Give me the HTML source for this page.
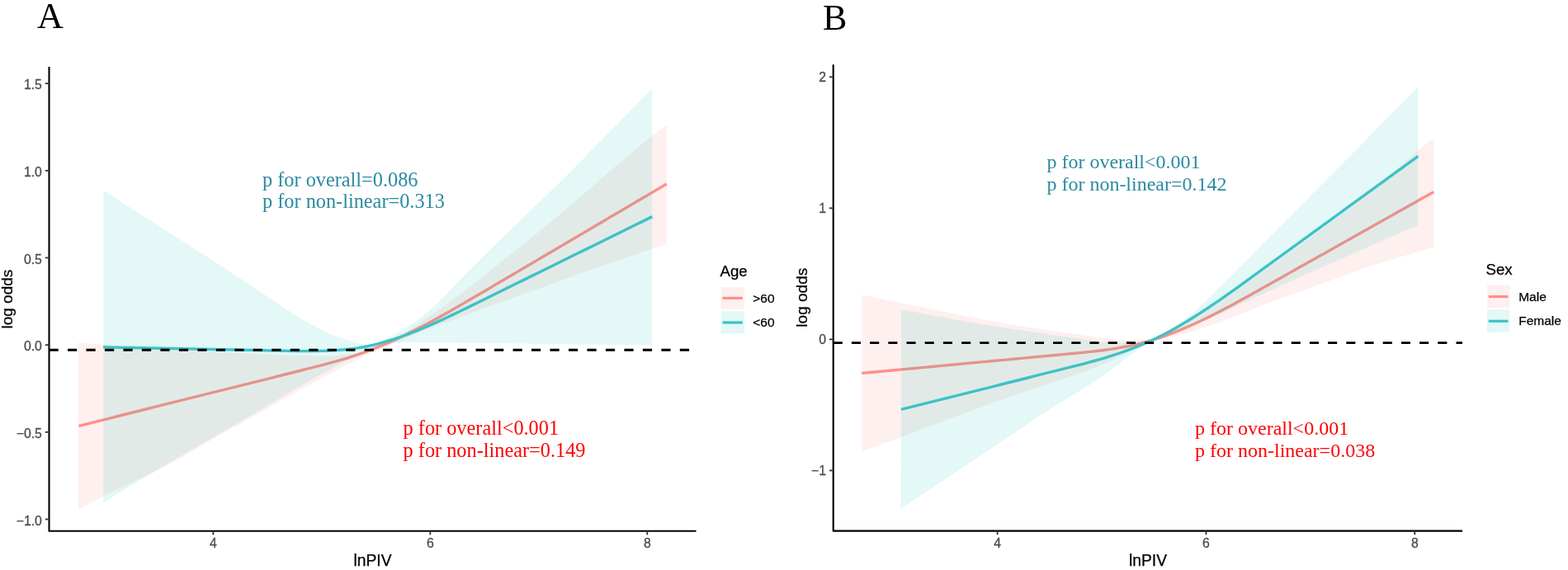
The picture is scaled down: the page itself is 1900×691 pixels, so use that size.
<!DOCTYPE html>
<html><head><meta charset="utf-8"><title>RCS plots</title>
<style>html,body{margin:0;padding:0;background:#fff;}body{width:1900px;height:691px;overflow:hidden;}svg{display:block;}</style>
</head><body>
<svg width="1900" height="691" viewBox="0 0 1900 691">
<rect width="100%" height="100%" fill="#fff"/>
<path d="M94.90,415.60 C104.08,416.25 132.48,418.27 150.00,419.50 C167.52,420.73 175.00,421.50 200.00,423.00 C225.00,424.50 273.33,427.20 300.00,428.50 C326.67,429.80 343.33,430.35 360.00,430.80 C376.67,431.25 389.17,431.40 400.00,431.20 C410.83,431.00 417.50,430.63 425.00,429.60 C432.50,428.57 439.17,426.93 445.00,425.00 C450.83,423.07 455.00,420.42 460.00,418.00 C465.00,415.58 469.17,413.42 475.00,410.50 C480.83,407.58 486.83,405.45 495.00,400.50 C503.17,395.55 513.92,387.80 524.00,380.80 C534.08,373.80 542.83,368.05 555.50,358.50 C568.17,348.95 578.82,340.50 600.00,323.50 C621.18,306.50 657.60,277.42 682.60,256.50 C707.60,235.58 732.05,213.30 750.00,198.00 C767.95,182.70 780.67,172.42 790.30,164.70 C799.93,156.98 804.88,153.87 807.80,151.70 L807.80,295.90 C804.88,296.83 801.05,297.88 790.30,301.50 C779.55,305.12 759.10,312.08 743.30,317.60 C727.50,323.12 711.42,328.92 695.50,334.60 C679.58,340.28 663.72,346.03 647.80,351.70 C631.88,357.37 611.88,364.32 600.00,368.60 C588.12,372.88 585.67,373.97 576.50,377.40 C567.33,380.83 555.50,385.33 545.00,389.20 C534.50,393.07 522.67,396.97 513.50,400.60 C504.33,404.23 498.08,407.52 490.00,411.00 C481.92,414.48 472.50,418.33 465.00,421.50 C457.50,424.67 452.68,426.42 445.00,430.00 C437.32,433.58 429.03,437.75 418.90,443.00 C408.77,448.25 404.45,450.30 384.20,461.50 C363.95,472.70 318.45,498.40 297.40,510.20 C276.35,522.00 274.13,523.07 257.90,532.30 C241.67,541.53 222.15,554.02 200.00,565.60 C177.85,577.18 142.52,593.05 125.00,601.80 C107.48,610.55 99.92,615.38 94.90,618.10 Z" fill="#F8766D" fill-opacity="0.110" stroke="none"/>
<path d="M95.60,516.34 L101.64,514.83 L107.67,513.32 L113.71,511.81 L119.74,510.31 L125.78,508.80 L131.81,507.29 L137.85,505.78 L143.88,504.27 L149.92,502.77 L155.96,501.26 L161.99,499.75 L168.03,498.24 L174.06,496.73 L180.10,495.23 L186.13,493.72 L192.17,492.21 L198.21,490.70 L204.24,489.19 L210.28,487.69 L216.31,486.18 L222.35,484.67 L228.38,483.16 L234.42,481.65 L240.45,480.15 L246.49,478.64 L252.53,477.13 L258.56,475.62 L264.60,474.11 L270.63,472.61 L276.67,471.10 L282.70,469.59 L288.74,468.08 L294.77,466.57 L300.81,465.07 L306.85,463.56 L312.88,462.05 L318.92,460.54 L324.95,459.03 L330.99,457.53 L337.02,456.02 L343.06,454.51 L349.09,453.00 L355.13,451.50 L361.17,449.99 L367.20,448.48 L373.24,446.97 L379.27,445.44 L385.31,443.90 L391.34,442.33 L397.38,440.73 L403.42,439.08 L409.45,437.38 L415.49,435.62 L421.52,433.79 L427.56,431.88 L433.59,429.89 L439.63,427.81 L445.66,425.63 L451.70,423.35 L457.74,420.95 L463.77,418.46 L469.81,415.87 L475.84,413.19 L481.88,410.42 L487.91,407.57 L493.95,404.64 L499.98,401.64 L506.02,398.57 L512.06,395.44 L518.09,392.24 L524.13,388.99 L530.16,385.69 L536.20,382.35 L542.23,378.96 L548.27,375.54 L554.31,372.08 L560.34,368.60 L566.38,365.09 L572.41,361.57 L578.45,358.03 L584.48,354.48 L590.52,350.93 L596.55,347.37 L602.59,343.82 L608.63,340.27 L614.66,336.71 L620.70,333.16 L626.73,329.60 L632.77,326.05 L638.80,322.50 L644.84,318.94 L650.87,315.39 L656.91,311.84 L662.95,308.28 L668.98,304.73 L675.02,301.17 L681.05,297.62 L687.09,294.07 L693.12,290.51 L699.16,286.96 L705.19,283.41 L711.23,279.85 L717.27,276.30 L723.30,272.74 L729.34,269.19 L735.37,265.64 L741.41,262.08 L747.44,258.53 L753.48,254.97 L759.52,251.42 L765.55,247.87 L771.59,244.31 L777.62,240.76 L783.66,237.21 L789.69,233.65 L795.73,230.10 L801.76,226.54 L807.80,222.99" fill="none" stroke="#FF8F88" stroke-width="3.4" stroke-linecap="butt" stroke-linejoin="round"/>
<path d="M125.30,230.80 C137.75,238.80 177.55,264.38 200.00,278.80 C222.45,293.22 243.33,306.53 260.00,317.30 C276.67,328.07 291.05,337.53 300.00,343.40 C308.95,349.27 309.12,349.40 313.70,352.50 C318.28,355.60 322.92,358.92 327.50,362.00 C332.08,365.08 336.62,368.00 341.20,371.00 C345.78,374.00 350.42,377.10 355.00,380.00 C359.58,382.90 364.12,385.73 368.70,388.40 C373.28,391.07 377.92,393.58 382.50,396.00 C387.08,398.42 391.62,400.83 396.20,402.90 C400.78,404.97 405.42,406.68 410.00,408.40 C414.58,410.12 419.12,411.83 423.70,413.20 C428.28,414.57 432.92,415.80 437.50,416.60 C442.08,417.40 447.45,418.30 451.20,418.00 C454.95,417.70 456.60,416.37 460.00,414.80 C463.40,413.23 467.75,410.65 471.60,408.60 C475.45,406.55 479.25,404.67 483.10,402.50 C486.95,400.33 490.83,398.10 494.70,395.60 C498.57,393.10 502.43,390.37 506.30,387.50 C510.17,384.63 514.05,381.65 517.90,378.40 C521.75,375.15 525.72,371.47 529.40,368.00 C533.08,364.53 535.65,362.07 540.00,357.60 C544.35,353.13 549.42,347.47 555.50,341.20 C561.58,334.93 569.08,327.40 576.50,320.00 C583.92,312.60 589.42,307.13 600.00,296.80 C610.58,286.47 626.23,271.33 640.00,258.00 C653.77,244.67 665.93,233.38 682.60,216.80 C699.27,200.22 722.05,176.82 740.00,158.50 C757.95,140.18 781.92,115.50 790.30,106.90 L790.30,418.50 C775.25,418.32 731.72,417.78 700.00,417.40 C668.28,417.02 630.00,416.55 600.00,416.20 C570.00,415.85 540.00,415.40 520.00,415.30 C500.00,415.20 489.17,415.23 480.00,415.60 C470.83,415.97 469.40,416.50 465.00,417.50 C460.60,418.50 457.77,419.85 453.60,421.60 C449.43,423.35 445.78,425.27 440.00,428.00 C434.22,430.73 428.20,433.23 418.90,438.00 C409.60,442.77 398.67,448.40 384.20,456.60 C369.73,464.80 349.47,477.05 332.10,487.20 C314.73,497.35 292.37,510.28 280.00,517.50 C267.63,524.72 271.23,522.73 257.90,530.50 C244.57,538.27 222.13,550.95 200.00,564.10 C177.87,577.25 137.58,601.85 125.10,609.40 Z" fill="#00BFB8" fill-opacity="0.110" stroke="none"/>
<path d="M125.10,420.84 L131.15,420.96 L137.19,421.08 L143.24,421.21 L149.29,421.33 L155.34,421.45 L161.38,421.57 L167.43,421.69 L173.48,421.81 L179.53,421.93 L185.57,422.06 L191.62,422.18 L197.67,422.30 L203.71,422.42 L209.76,422.54 L215.81,422.66 L221.86,422.78 L227.90,422.90 L233.95,423.03 L240.00,423.15 L246.05,423.27 L252.09,423.39 L258.14,423.51 L264.19,423.63 L270.23,423.75 L276.28,423.88 L282.33,424.00 L288.38,424.12 L294.42,424.24 L300.47,424.36 L306.52,424.48 L312.57,424.60 L318.61,424.73 L324.66,424.85 L330.71,424.97 L336.75,425.09 L342.80,425.21 L348.85,425.33 L354.90,425.44 L360.94,425.54 L366.99,425.61 L373.04,425.64 L379.09,425.63 L385.13,425.55 L391.18,425.42 L397.23,425.21 L403.27,424.91 L409.32,424.52 L415.37,424.02 L421.42,423.41 L427.46,422.68 L433.51,421.81 L439.56,420.80 L445.61,419.63 L451.65,418.31 L457.70,416.84 L463.75,415.23 L469.79,413.48 L475.84,411.60 L481.89,409.61 L487.94,407.50 L493.98,405.28 L500.03,402.96 L506.08,400.55 L512.13,398.05 L518.17,395.47 L524.22,392.82 L530.27,390.11 L536.31,387.34 L542.36,384.52 L548.41,381.65 L554.46,378.75 L560.50,375.82 L566.55,372.87 L572.60,369.90 L578.65,366.92 L584.69,363.94 L590.74,360.96 L596.79,357.98 L602.83,355.00 L608.88,352.02 L614.93,349.04 L620.98,346.07 L627.02,343.09 L633.07,340.11 L639.12,337.13 L645.17,334.15 L651.21,331.17 L657.26,328.19 L663.31,325.21 L669.35,322.23 L675.40,319.25 L681.45,316.27 L687.50,313.29 L693.54,310.31 L699.59,307.33 L705.64,304.35 L711.69,301.38 L717.73,298.40 L723.78,295.42 L729.83,292.44 L735.87,289.46 L741.92,286.48 L747.97,283.50 L754.02,280.52 L760.06,277.54 L766.11,274.56 L772.16,271.58 L778.21,268.60 L784.25,265.62 L790.30,262.64" fill="none" stroke="#3DC2C6" stroke-width="3.4" stroke-linecap="butt" stroke-linejoin="round"/>
<line x1="59.50" y1="424.20" x2="843.50" y2="424.20" stroke="#000" stroke-width="2.9" stroke-dasharray="11.24 11.24"/>
<path d="M59.50,81.00 L59.50,643.70 L843.50,643.70" fill="none" stroke="#000" stroke-width="2.1" stroke-linecap="butt" stroke-linejoin="round"/>
<line x1="54.80" y1="101.20" x2="59.50" y2="101.20" stroke="#333" stroke-width="1.8"/>
<text x="50.90" y="108.20" text-anchor="end" font-family="Liberation Sans, Arial, sans-serif" font-size="15.8" fill="#4D4D4D" stroke="#4D4D4D" stroke-width="0.3">1.5</text>
<line x1="54.80" y1="206.85" x2="59.50" y2="206.85" stroke="#333" stroke-width="1.8"/>
<text x="50.90" y="213.85" text-anchor="end" font-family="Liberation Sans, Arial, sans-serif" font-size="15.8" fill="#4D4D4D" stroke="#4D4D4D" stroke-width="0.3">1.0</text>
<line x1="54.80" y1="312.50" x2="59.50" y2="312.50" stroke="#333" stroke-width="1.8"/>
<text x="50.90" y="319.50" text-anchor="end" font-family="Liberation Sans, Arial, sans-serif" font-size="15.8" fill="#4D4D4D" stroke="#4D4D4D" stroke-width="0.3">0.5</text>
<line x1="54.80" y1="418.20" x2="59.50" y2="418.20" stroke="#333" stroke-width="1.8"/>
<text x="50.90" y="425.20" text-anchor="end" font-family="Liberation Sans, Arial, sans-serif" font-size="15.8" fill="#4D4D4D" stroke="#4D4D4D" stroke-width="0.3">0.0</text>
<line x1="54.80" y1="523.85" x2="59.50" y2="523.85" stroke="#333" stroke-width="1.8"/>
<text x="50.90" y="530.85" text-anchor="end" font-family="Liberation Sans, Arial, sans-serif" font-size="15.8" fill="#4D4D4D" stroke="#4D4D4D" stroke-width="0.3">−0.5</text>
<line x1="54.80" y1="629.50" x2="59.50" y2="629.50" stroke="#333" stroke-width="1.8"/>
<text x="50.90" y="636.50" text-anchor="end" font-family="Liberation Sans, Arial, sans-serif" font-size="15.8" fill="#4D4D4D" stroke="#4D4D4D" stroke-width="0.3">−1.0</text>
<line x1="258.40" y1="643.70" x2="258.40" y2="648.40" stroke="#333" stroke-width="1.8"/>
<text x="258.40" y="664.30" text-anchor="middle" font-family="Liberation Sans, Arial, sans-serif" font-size="15.8" fill="#4D4D4D" stroke="#4D4D4D" stroke-width="0.3">4</text>
<line x1="521.30" y1="643.70" x2="521.30" y2="648.40" stroke="#333" stroke-width="1.8"/>
<text x="521.30" y="664.30" text-anchor="middle" font-family="Liberation Sans, Arial, sans-serif" font-size="15.8" fill="#4D4D4D" stroke="#4D4D4D" stroke-width="0.3">6</text>
<line x1="784.30" y1="643.70" x2="784.30" y2="648.40" stroke="#333" stroke-width="1.8"/>
<text x="784.30" y="664.30" text-anchor="middle" font-family="Liberation Sans, Arial, sans-serif" font-size="15.8" fill="#4D4D4D" stroke="#4D4D4D" stroke-width="0.3">8</text>
<text x="451.50" y="686.00" font-family="Liberation Sans, Arial, sans-serif" font-size="19.30" fill="#000" text-anchor="middle" stroke="#000" stroke-width="0.25">lnPIV</text>
<text x="14.70" y="362.60" font-family="Liberation Sans, Arial, sans-serif" font-size="19.00" fill="#000" text-anchor="middle" transform="rotate(-90 14.70 362.60)" stroke="#000" stroke-width="0.25">log odds</text>
<text x="318.00" y="225.90" font-family="Liberation Serif, Times New Roman, serif" font-size="24.30" fill="#2B8AA0" text-anchor="start">p for overall=0.086</text>
<text x="318.00" y="251.80" font-family="Liberation Serif, Times New Roman, serif" font-size="24.30" fill="#2B8AA0" text-anchor="start">p for non-linear=0.313</text>
<text x="488.60" y="527.20" font-family="Liberation Serif, Times New Roman, serif" font-size="24.30" fill="#FF0000" text-anchor="start">p for overall&lt;0.001</text>
<text x="488.60" y="553.70" font-family="Liberation Serif, Times New Roman, serif" font-size="24.30" fill="#FF0000" text-anchor="start">p for non-linear=0.149</text>
<text x="45.00" y="33.90" font-family="Liberation Serif, Times New Roman, serif" font-size="44.00" fill="#000" text-anchor="start">A</text>
<text x="872.50" y="334.60" font-family="Liberation Sans, Arial, sans-serif" font-size="18.70" fill="#000" text-anchor="start" stroke="#000" stroke-width="0.25">Age</text>
<rect x="873.7" y="347.9" width="28.3" height="26.9" fill="#F8766D" fill-opacity="0.110"/>
<line x1="875.6" y1="361.4" x2="899.8" y2="361.4" stroke="#FF8F88" stroke-width="3.2"/>
<rect x="873.7" y="377.3" width="28.3" height="26.9" fill="#00BFB8" fill-opacity="0.110"/>
<line x1="875.6" y1="391.0" x2="899.8" y2="391.0" stroke="#3DC2C6" stroke-width="3.2"/>
<text x="912.30" y="366.70" font-family="Liberation Sans, Arial, sans-serif" font-size="15.50" fill="#000" text-anchor="start" stroke="#000" stroke-width="0.25">&gt;60</text>
<text x="912.30" y="396.10" font-family="Liberation Sans, Arial, sans-serif" font-size="15.50" fill="#000" text-anchor="start" stroke="#000" stroke-width="0.25">&lt;60</text>
<path d="M1044.30,357.40 C1053.58,359.30 1082.38,365.20 1100.00,368.80 C1117.62,372.40 1133.33,375.63 1150.00,379.00 C1166.67,382.37 1183.00,385.92 1200.00,389.00 C1217.00,392.08 1235.33,394.92 1252.00,397.50 C1268.67,400.08 1285.52,402.42 1300.00,404.50 C1314.48,406.58 1328.07,408.65 1338.90,410.00 C1349.73,411.35 1357.32,412.17 1365.00,412.60 C1372.68,413.03 1379.67,412.83 1385.00,412.60 C1390.33,412.37 1391.17,413.05 1397.00,411.20 C1402.83,409.35 1411.17,406.03 1420.00,401.50 C1428.83,396.97 1439.67,390.58 1450.00,384.00 C1460.33,377.42 1470.33,369.92 1482.00,362.00 C1493.67,354.08 1507.00,345.50 1520.00,336.50 C1533.00,327.50 1546.67,317.67 1560.00,308.00 C1573.33,298.33 1583.33,291.00 1600.00,278.50 C1616.67,266.00 1640.28,248.98 1660.00,233.00 C1679.72,217.02 1705.42,193.53 1718.30,182.60 C1731.18,171.67 1734.13,169.93 1737.30,167.40 L1737.30,299.50 C1724.42,303.42 1682.88,315.50 1660.00,323.00 C1637.12,330.50 1618.33,337.87 1600.00,344.50 C1581.67,351.13 1563.43,357.82 1550.00,362.80 C1536.57,367.78 1530.28,370.23 1519.40,374.40 C1508.52,378.57 1494.43,384.10 1484.70,387.80 C1474.97,391.50 1470.02,393.57 1461.00,396.60 C1451.98,399.63 1438.77,403.85 1430.60,406.00 C1422.43,408.15 1417.60,408.47 1412.00,409.50 C1406.40,410.53 1401.50,410.87 1397.00,412.20 C1392.50,413.53 1390.33,414.78 1385.00,417.50 C1379.67,420.22 1372.68,424.67 1365.00,428.50 C1357.32,432.33 1349.03,436.28 1338.90,440.50 C1328.77,444.72 1318.68,448.63 1304.20,453.80 C1289.72,458.97 1269.37,465.55 1252.00,471.50 C1234.63,477.45 1217.00,483.42 1200.00,489.50 C1183.00,495.58 1168.02,501.25 1150.00,508.00 C1131.98,514.75 1109.52,523.48 1091.90,530.00 C1074.28,536.52 1052.23,544.25 1044.30,547.10 Z" fill="#F8766D" fill-opacity="0.110" stroke="none"/>
<path d="M1044.30,452.41 L1050.33,451.85 L1056.35,451.28 L1062.38,450.72 L1068.40,450.16 L1074.43,449.60 L1080.46,449.04 L1086.48,448.47 L1092.51,447.91 L1098.53,447.35 L1104.56,446.79 L1110.59,446.22 L1116.61,445.66 L1122.64,445.10 L1128.67,444.54 L1134.69,443.98 L1140.72,443.41 L1146.74,442.85 L1152.77,442.29 L1158.80,441.73 L1164.82,441.17 L1170.85,440.60 L1176.87,440.04 L1182.90,439.48 L1188.93,438.92 L1194.95,438.36 L1200.98,437.79 L1207.00,437.23 L1213.03,436.67 L1219.06,436.11 L1225.08,435.54 L1231.11,434.98 L1237.13,434.42 L1243.16,433.86 L1249.19,433.30 L1255.21,432.73 L1261.24,432.17 L1267.27,431.61 L1273.29,431.05 L1279.32,430.49 L1285.34,429.92 L1291.37,429.36 L1297.40,428.80 L1303.42,428.23 L1309.45,427.65 L1315.47,427.04 L1321.50,426.40 L1327.53,425.72 L1333.55,424.99 L1339.58,424.20 L1345.60,423.34 L1351.63,422.41 L1357.66,421.40 L1363.68,420.29 L1369.71,419.09 L1375.73,417.77 L1381.76,416.33 L1387.79,414.77 L1393.81,413.07 L1399.84,411.23 L1405.87,409.26 L1411.89,407.17 L1417.92,404.95 L1423.94,402.62 L1429.97,400.19 L1436.00,397.65 L1442.02,395.01 L1448.05,392.28 L1454.07,389.47 L1460.10,386.58 L1466.13,383.61 L1472.15,380.58 L1478.18,377.48 L1484.20,374.33 L1490.23,371.13 L1496.26,367.89 L1502.28,364.60 L1508.31,361.29 L1514.33,357.95 L1520.36,354.59 L1526.39,351.21 L1532.41,347.82 L1538.44,344.44 L1544.47,341.05 L1550.49,337.66 L1556.52,334.27 L1562.54,330.88 L1568.57,327.49 L1574.60,324.10 L1580.62,320.72 L1586.65,317.33 L1592.67,313.94 L1598.70,310.55 L1604.73,307.16 L1610.75,303.77 L1616.78,300.38 L1622.80,296.99 L1628.83,293.61 L1634.86,290.22 L1640.88,286.83 L1646.91,283.44 L1652.93,280.05 L1658.96,276.66 L1664.99,273.27 L1671.01,269.88 L1677.04,266.50 L1683.07,263.11 L1689.09,259.72 L1695.12,256.33 L1701.14,252.94 L1707.17,249.55 L1713.20,246.16 L1719.22,242.77 L1725.25,239.39 L1731.27,236.00 L1737.30,232.61" fill="none" stroke="#FF8F88" stroke-width="3.4" stroke-linecap="butt" stroke-linejoin="round"/>
<path d="M1091.90,375.20 C1101.58,376.98 1131.98,382.63 1150.00,385.90 C1168.02,389.17 1183.00,392.02 1200.00,394.80 C1217.00,397.58 1235.33,400.13 1252.00,402.60 C1268.67,405.07 1285.52,407.60 1300.00,409.60 C1314.48,411.60 1328.07,413.65 1338.90,414.60 C1349.73,415.55 1357.32,415.43 1365.00,415.30 C1372.68,415.17 1379.67,414.48 1385.00,413.80 C1390.33,413.12 1392.50,413.00 1397.00,411.20 C1401.50,409.40 1407.33,405.78 1412.00,403.00 C1416.67,400.22 1420.83,397.33 1425.00,394.50 C1429.17,391.67 1433.27,388.78 1437.00,386.00 C1440.73,383.22 1443.57,381.10 1447.40,377.80 C1451.23,374.50 1453.73,372.28 1460.00,366.20 C1466.27,360.12 1475.00,351.33 1485.00,341.30 C1495.00,331.27 1507.50,318.62 1520.00,306.00 C1532.50,293.38 1546.67,279.07 1560.00,265.60 C1573.33,252.13 1583.33,242.02 1600.00,225.20 C1616.67,208.38 1640.28,184.72 1660.00,164.70 C1679.72,144.68 1708.58,115.03 1718.30,105.10 L1718.30,273.10 C1708.58,277.33 1679.72,289.85 1660.00,298.50 C1640.28,307.15 1616.67,317.60 1600.00,325.00 C1583.33,332.40 1573.33,336.90 1560.00,342.90 C1546.67,348.90 1531.67,355.65 1520.00,361.00 C1508.33,366.35 1499.83,370.50 1490.00,375.00 C1480.17,379.50 1470.17,384.25 1461.00,388.00 C1451.83,391.75 1443.17,394.58 1435.00,397.50 C1426.83,400.42 1418.33,403.08 1412.00,405.50 C1405.67,407.92 1401.95,409.33 1397.00,412.00 C1392.05,414.67 1389.08,416.70 1382.30,421.50 C1375.52,426.30 1366.43,433.42 1356.30,440.80 C1346.17,448.18 1336.55,455.93 1321.50,465.80 C1306.45,475.67 1286.25,486.92 1266.00,500.00 C1245.75,513.08 1219.33,531.33 1200.00,544.30 C1180.67,557.27 1168.07,565.68 1150.00,577.80 C1131.93,589.92 1101.33,610.47 1091.60,617.00 Z" fill="#00BFB8" fill-opacity="0.110" stroke="none"/>
<path d="M1091.90,496.41 L1097.92,494.91 L1103.95,493.40 L1109.97,491.89 L1115.99,490.38 L1122.02,488.88 L1128.04,487.37 L1134.06,485.86 L1140.08,484.36 L1146.11,482.85 L1152.13,481.34 L1158.15,479.84 L1164.18,478.33 L1170.20,476.82 L1176.22,475.31 L1182.25,473.81 L1188.27,472.30 L1194.29,470.79 L1200.32,469.29 L1206.34,467.78 L1212.36,466.27 L1218.38,464.77 L1224.41,463.26 L1230.43,461.75 L1236.45,460.24 L1242.48,458.74 L1248.50,457.23 L1254.52,455.72 L1260.55,454.22 L1266.57,452.71 L1272.59,451.20 L1278.62,449.70 L1284.64,448.19 L1290.66,446.68 L1296.68,445.17 L1302.71,443.64 L1308.73,442.09 L1314.75,440.52 L1320.78,438.90 L1326.80,437.24 L1332.82,435.53 L1338.85,433.76 L1344.87,431.92 L1350.89,430.00 L1356.92,428.00 L1362.94,425.91 L1368.96,423.72 L1374.98,421.42 L1381.01,419.01 L1387.03,416.47 L1393.05,413.80 L1399.08,410.99 L1405.10,408.04 L1411.12,404.96 L1417.15,401.75 L1423.17,398.41 L1429.19,394.96 L1435.22,391.41 L1441.24,387.75 L1447.26,383.99 L1453.28,380.15 L1459.31,376.23 L1465.33,372.23 L1471.35,368.16 L1477.38,364.03 L1483.40,359.85 L1489.42,355.62 L1495.45,351.35 L1501.47,347.04 L1507.49,342.71 L1513.52,338.35 L1519.54,333.98 L1525.56,329.60 L1531.58,325.22 L1537.61,320.84 L1543.63,316.46 L1549.65,312.07 L1555.68,307.69 L1561.70,303.31 L1567.72,298.93 L1573.75,294.55 L1579.77,290.17 L1585.79,285.79 L1591.82,281.41 L1597.84,277.03 L1603.86,272.64 L1609.88,268.26 L1615.91,263.88 L1621.93,259.50 L1627.95,255.12 L1633.98,250.74 L1640.00,246.36 L1646.02,241.98 L1652.05,237.60 L1658.07,233.21 L1664.09,228.83 L1670.12,224.45 L1676.14,220.07 L1682.16,215.69 L1688.18,211.31 L1694.21,206.93 L1700.23,202.55 L1706.25,198.16 L1712.28,193.78 L1718.30,189.40" fill="none" stroke="#3DC2C6" stroke-width="3.4" stroke-linecap="butt" stroke-linejoin="round"/>
<line x1="1009.70" y1="415.60" x2="1772.00" y2="415.60" stroke="#000" stroke-width="2.9" stroke-dasharray="11.10 11.10"/>
<path d="M1009.70,78.20 L1009.70,643.60 L1772.00,643.60" fill="none" stroke="#000" stroke-width="2.1" stroke-linecap="butt" stroke-linejoin="round"/>
<line x1="1005.00" y1="93.30" x2="1009.70" y2="93.30" stroke="#333" stroke-width="1.8"/>
<text x="1001.10" y="99.30" text-anchor="end" font-family="Liberation Sans, Arial, sans-serif" font-size="15.8" fill="#4D4D4D" stroke="#4D4D4D" stroke-width="0.3">2</text>
<line x1="1005.00" y1="252.35" x2="1009.70" y2="252.35" stroke="#333" stroke-width="1.8"/>
<text x="1001.10" y="258.35" text-anchor="end" font-family="Liberation Sans, Arial, sans-serif" font-size="15.8" fill="#4D4D4D" stroke="#4D4D4D" stroke-width="0.3">1</text>
<line x1="1005.00" y1="411.40" x2="1009.70" y2="411.40" stroke="#333" stroke-width="1.8"/>
<text x="1001.10" y="417.40" text-anchor="end" font-family="Liberation Sans, Arial, sans-serif" font-size="15.8" fill="#4D4D4D" stroke="#4D4D4D" stroke-width="0.3">0</text>
<line x1="1005.00" y1="570.40" x2="1009.70" y2="570.40" stroke="#333" stroke-width="1.8"/>
<text x="1001.10" y="576.40" text-anchor="end" font-family="Liberation Sans, Arial, sans-serif" font-size="15.8" fill="#4D4D4D" stroke="#4D4D4D" stroke-width="0.3">−1</text>
<line x1="1208.60" y1="643.60" x2="1208.60" y2="648.30" stroke="#333" stroke-width="1.8"/>
<text x="1208.60" y="664.20" text-anchor="middle" font-family="Liberation Sans, Arial, sans-serif" font-size="15.8" fill="#4D4D4D" stroke="#4D4D4D" stroke-width="0.3">4</text>
<line x1="1461.45" y1="643.60" x2="1461.45" y2="648.30" stroke="#333" stroke-width="1.8"/>
<text x="1461.45" y="664.20" text-anchor="middle" font-family="Liberation Sans, Arial, sans-serif" font-size="15.8" fill="#4D4D4D" stroke="#4D4D4D" stroke-width="0.3">6</text>
<line x1="1714.30" y1="643.60" x2="1714.30" y2="648.30" stroke="#333" stroke-width="1.8"/>
<text x="1714.30" y="664.20" text-anchor="middle" font-family="Liberation Sans, Arial, sans-serif" font-size="15.8" fill="#4D4D4D" stroke="#4D4D4D" stroke-width="0.3">8</text>
<text x="1391.00" y="686.00" font-family="Liberation Sans, Arial, sans-serif" font-size="19.30" fill="#000" text-anchor="middle" stroke="#000" stroke-width="0.25">lnPIV</text>
<text x="978.10" y="360.70" font-family="Liberation Sans, Arial, sans-serif" font-size="19.00" fill="#000" text-anchor="middle" transform="rotate(-90 978.10 360.70)" stroke="#000" stroke-width="0.25">log odds</text>
<text x="1268.40" y="204.00" font-family="Liberation Serif, Times New Roman, serif" font-size="24.00" fill="#2B8AA0" text-anchor="start">p for overall&lt;0.001</text>
<text x="1268.40" y="230.50" font-family="Liberation Serif, Times New Roman, serif" font-size="24.00" fill="#2B8AA0" text-anchor="start">p for non-linear=0.142</text>
<text x="1448.00" y="527.20" font-family="Liberation Serif, Times New Roman, serif" font-size="24.00" fill="#FF0000" text-anchor="start">p for overall&lt;0.001</text>
<text x="1448.00" y="553.70" font-family="Liberation Serif, Times New Roman, serif" font-size="24.00" fill="#FF0000" text-anchor="start">p for non-linear=0.038</text>
<text x="997.00" y="35.70" font-family="Liberation Serif, Times New Roman, serif" font-size="44.00" fill="#000" text-anchor="start">B</text>
<text x="1800.50" y="333.30" font-family="Liberation Sans, Arial, sans-serif" font-size="18.70" fill="#000" text-anchor="start" stroke="#000" stroke-width="0.25">Sex</text>
<rect x="1801.9" y="345.5" width="27.5" height="27.5" fill="#F8766D" fill-opacity="0.110"/>
<line x1="1803.8" y1="359.6" x2="1827.5" y2="359.6" stroke="#FF8F88" stroke-width="3.2"/>
<rect x="1801.9" y="375.4" width="27.5" height="27.5" fill="#00BFB8" fill-opacity="0.110"/>
<line x1="1803.8" y1="389.3" x2="1827.5" y2="389.3" stroke="#3DC2C6" stroke-width="3.2"/>
<text x="1840.20" y="365.00" font-family="Liberation Sans, Arial, sans-serif" font-size="15.50" fill="#000" text-anchor="start" stroke="#000" stroke-width="0.25">Male</text>
<text x="1840.20" y="394.20" font-family="Liberation Sans, Arial, sans-serif" font-size="15.50" fill="#000" text-anchor="start" stroke="#000" stroke-width="0.25">Female</text>
</svg>
</body></html>
